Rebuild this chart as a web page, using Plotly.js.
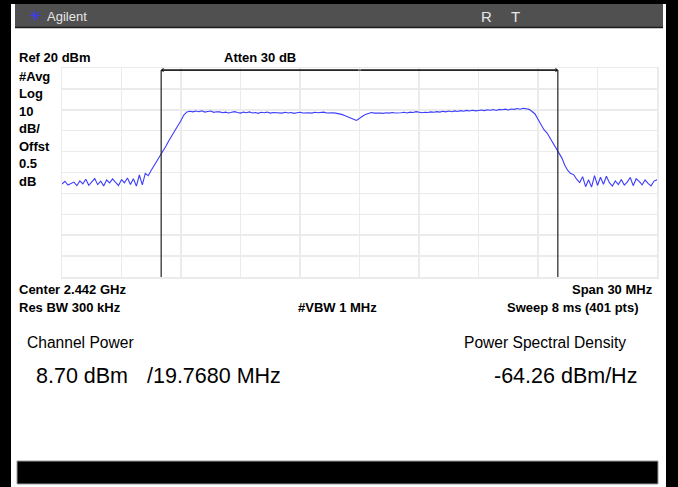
<!DOCTYPE html>
<html>
<head>
<meta charset="utf-8">
<script src="https://cdn.plot.ly/plotly-3.0.1.min.js"></script>
<style>
html,body{margin:0;padding:0;background:#fff;}
#chart{width:678px;height:487px;}
</style>
</head>
<body>
<div id="chart"></div>
<script>
// ---- Data ----
const centerMHz = 2442;
const spanMHz = 30;
const channelLowMHz = 2432;
const channelHighMHz = 2452;
const refLevelDbm = 20;
const dbPerDiv = 10;

const noiseLeftDbm = [-35.5, -34.2, -36.0, -35.1, -34.6, -36.3, -34.0, -35.4, -33.2, -36.1,
  -34.5, -32.9, -35.8, -34.1, -36.4, -33.6, -35.0, -33.1, -34.7, -36.2,
  -33.4, -34.9, -32.6, -35.7, -33.0, -36.5, -31.2, -35.9, -30.4];
const riseDbm = [-31.5, -28.9, -26.6, -24.8, -22.1, -20.0, -17.2, -14.6, -12.3, -10.2, -8.0, -5.1, -2.4, -1.0];
const plateauLeftDbm = [-0.7, -1.0, -0.6, -0.9, -0.5, -1.1, -0.8, -0.6, -1.2, -0.9,
  -1.0, -1.4, -1.1, -1.5, -1.2, -0.9, -1.3, -1.6, -1.1, -1.4,
  -1.0, -1.5, -1.3, -1.7, -1.2, -1.4, -1.1, -1.6, -1.3, -1.5,
  -1.4, -1.6, -1.2, -1.5, -1.3, -1.7, -1.4, -1.2, -1.5, -1.3,
  -1.4, -1.6, -1.2, -1.4, -1.3, -1.1, -1.5, -1.3, -1.4, -1.6];
const dipDbm = [-1.8, -2.2, -2.7, -3.2, -3.8, -4.5, -5.1, -4.3, -3.1, -2.2, -1.6];
const plateauRightDbm = [-1.3, -1.6, -1.4, -1.5, -1.7, -1.4, -1.6, -1.3, -1.5, -1.6,
  -1.4, -1.2, -1.5, -1.1, -1.3, -0.9, -1.2, -1.4, -1.2, -1.3,
  -1.0, -1.2, -0.9, -1.1, -0.7, -1.0, -0.6, -0.9, -0.5, -0.8,
  -0.4, -0.7, -0.3, -0.6, -0.2, -0.5, -0.3, -0.1, -0.4, 0.0,
  -0.2, 0.1, -0.3, 0.2, 0.0, 0.3, -0.1, 0.4, 0.2, 0.6,
  0.3, 0.7, 0.5, 0.2];
const fallDbm = [-0.8, -2.0, -4.5, -6.8, -9.5, -11.0, -13.5, -15.5, -17.8, -20.6, -23.0, -26.5, -29.0, -30.5, -31.0, -33.2, -34.8];
const noiseRightDbm = [-32.0, -36.8, -33.5, -37.0, -31.5, -36.2, -32.3, -35.6, -31.8, -34.9,
  -36.5, -34.0, -35.8, -33.4, -36.0, -34.6, -32.4, -36.3, -33.0, -34.2,
  -35.9, -33.6, -35.2, -36.4, -34.1, -33.5];

const leftLabels = ['#Avg', 'Log', '10', 'dB/', 'Offst', '0.5', 'dB'];

// ---- Build trace ----
const levelDbm = [].concat(noiseLeftDbm, riseDbm, plateauLeftDbm, dipDbm, plateauRightDbm, fallDbm, noiseRightDbm);
const startMHz = centerMHz - spanMHz / 2;
const stopMHz = centerMHz + spanMHz / 2;
const freqMHz = levelDbm.map((_, i) => startMHz + i * spanMHz / (levelDbm.length - 1));
const bottomDbm = refLevelDbm - 10 * dbPerDiv;

// pixel -> paper helpers (plot area 62..657 x 68..277)
const L = 62, R = 657, T = 68, B = 277;
const X = px => (px - L) / (R - L);
const Y = py => (B - py) / (B - T);

const bold = {family: 'Liberation Sans, Arial, sans-serif', size: 13, color: '#000'};
const plain = (s) => ({family: 'Liberation Sans, Arial, sans-serif', size: s, color: '#000'});

function lab(text, px, py, font, anchor) {
  return {text: text, xref: 'paper', yref: 'paper', x: X(px), y: Y(py),
    xanchor: anchor || 'left', yanchor: 'middle', showarrow: false, font: font};
}

const annotations = [
  lab('<b>Ref 20 dBm</b>', 17, 58, bold),
  lab('<b>Atten 30 dB</b>', 222, 58, bold),
  lab('<b>Center 2.442 GHz</b>', 17, 289, bold),
  lab('<b>Span 30 MHz</b>', 655, 289, bold, 'right'),
  lab('<b>Res BW 300 kHz</b>', 17, 307, bold),
  lab('<b>#VBW 1 MHz</b>', 296, 307, bold),
  lab('<b>Sweep 8 ms (401 pts)</b>', 641, 307, bold, 'right'),
  lab('Channel Power', 25, 342, plain(15.6)),
  lab('Power Spectral Density', 462, 342, plain(15.6)),
  lab('8.70 dBm', 34, 376, plain(21.5)),
  lab('/19.7680 MHz', 145, 376, plain(21.5)),
  lab('-64.26 dBm/Hz', 639, 376, plain(21.5), 'right'),
  lab('Agilent', 45, 16, {family: 'Liberation Sans, Arial, sans-serif', size: 13, color: '#e6e6e6'}),
  lab('✳', 27, 16, {family: 'DejaVu Sans', size: 15, color: '#3a3aff'}),
  lab('R', 479, 17, {family: 'Liberation Sans, Arial, sans-serif', size: 15, color: '#e6e6e6'}),
  lab('T', 509, 17, {family: 'Liberation Sans, Arial, sans-serif', size: 15, color: '#e6e6e6'}),
  // channel-width arrows
  {x: channelLowMHz, y: 0.99, xref: 'x', yref: 'paper', ax: centerMHz, ay: 0.99, axref: 'x', ayref: 'paper',
   text: '', showarrow: true, arrowhead: 4, arrowsize: 0.7, arrowwidth: 1, arrowcolor: '#000'},
  {x: channelHighMHz, y: 0.99, xref: 'x', yref: 'paper', ax: centerMHz, ay: 0.99, axref: 'x', ayref: 'paper',
   text: '', showarrow: true, arrowhead: 4, arrowsize: 0.7, arrowwidth: 1, arrowcolor: '#000'}
];
leftLabels.forEach((t, i) => annotations.push(lab('<b>' + t + '</b>', 17, 76 + i * 17.5, bold)));

const shapes = [
  // frame
  {type: 'rect', xref: 'paper', yref: 'paper', x0: X(0), x1: X(11), y0: Y(487), y1: Y(0), fillcolor: '#000', line: {width: 0}, layer: 'below'},
  {type: 'rect', xref: 'paper', yref: 'paper', x0: X(666), x1: X(678), y0: Y(487), y1: Y(0), fillcolor: '#000', line: {width: 0}, layer: 'below'},
  {type: 'rect', xref: 'paper', yref: 'paper', x0: X(0), x1: X(678), y0: Y(4), y1: Y(0), fillcolor: '#000', line: {width: 0}, layer: 'below'},
  // header bar
  {type: 'rect', xref: 'paper', yref: 'paper', x0: X(15), x1: X(663), y0: Y(27), y1: Y(4), fillcolor: '#505050', line: {width: 0}, layer: 'below'},
  {type: 'line', xref: 'paper', yref: 'paper', x0: X(15), x1: X(663), y0: Y(27.5), y1: Y(27.5), line: {color: '#1a1a1a', width: 1.5}},
  // bottom bar
  {type: 'rect', xref: 'paper', yref: 'paper', x0: X(17), x1: X(658), y0: Y(484), y1: Y(461), fillcolor: '#000', line: {color: '#9a9a9a', width: 1}, layer: 'below'},
  // channel boundaries
  {type: 'line', xref: 'x', yref: 'paper', x0: channelLowMHz, x1: channelLowMHz, y0: 0, y1: 0.99, line: {color: '#222', width: 1.2}},
  {type: 'line', xref: 'x', yref: 'paper', x0: channelHighMHz, x1: channelHighMHz, y0: 0, y1: 0.99, line: {color: '#222', width: 1.2}},
  {type: 'line', xref: 'x', yref: 'paper', x0: channelLowMHz, x1: channelHighMHz, y0: 0.99, y1: 0.99, line: {color: '#222', width: 1.2}}
];

const trace = {
  x: freqMHz, y: levelDbm, type: 'scatter', mode: 'lines',
  line: {color: '#3c3cff', width: 1.1}, hoverinfo: 'skip'
};

const layout = {
  width: 678, height: 487,
  margin: {l: L, r: 678 - R, t: T, b: 487 - B, pad: 0},
  paper_bgcolor: '#fff', plot_bgcolor: '#fff',
  showlegend: false,
  xaxis: {range: [startMHz, stopMHz], dtick: spanMHz / 10, tick0: startMHz, showticklabels: false, ticks: '',
    showgrid: true, gridcolor: '#ebebeb', gridwidth: 1.5, zeroline: false,
    showline: true, mirror: true, linecolor: '#ebebeb', linewidth: 1.5, fixedrange: true},
  yaxis: {range: [bottomDbm, refLevelDbm], dtick: dbPerDiv, tick0: bottomDbm, showticklabels: false, ticks: '',
    showgrid: true, gridcolor: '#ebebeb', gridwidth: 1.5, zeroline: false,
    showline: true, mirror: true, linecolor: '#ebebeb', linewidth: 1.5, fixedrange: true},
  annotations: annotations,
  shapes: shapes
};

Plotly.newPlot('chart', [trace], layout, {displayModeBar: false, staticPlot: true});
</script>
</body>
</html>
